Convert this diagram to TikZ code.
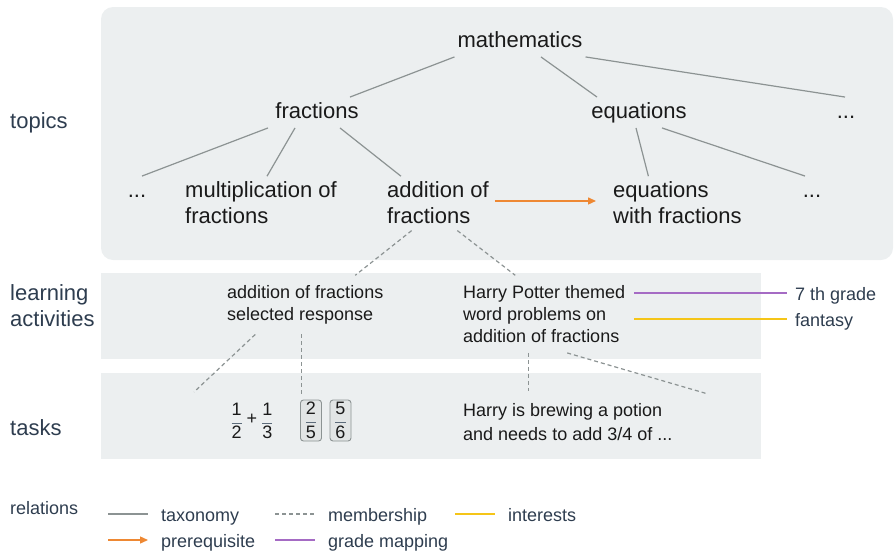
\documentclass[tikz,border=0pt]{standalone}
\usepackage{fontspec}
\setmainfont{Liberation Sans}
\usetikzlibrary{arrows.meta}

\definecolor{panelgray}{HTML}{ECEFF0}
\definecolor{linegray}{HTML}{8C9393}
\definecolor{slate}{HTML}{2E3D4F}
\definecolor{barslate}{HTML}{5C6B7A}
\definecolor{inkblack}{HTML}{1A1A1A}
\definecolor{prereqorange}{HTML}{EE8833}
\definecolor{gradepurple}{HTML}{A56BC4}
\definecolor{interestyellow}{HTML}{F5C518}
\definecolor{choicegray}{HTML}{E2E5E5}

\newcommand{\fracpair}[2]{{\color{barslate}\frac{\mbox{\color{inkblack}#1}}{\mbox{\color{inkblack}#2}}}}

\begin{document}
\begin{tikzpicture}[
        x=1pt, y=-1pt,
        topic/.style={font=\fontsize{22}{26}\selectfont, text=inkblack, inner xsep=3pt, inner ysep=5pt, align=left},
        oneline/.style={text height=16pt, text depth=4.5pt},
        activity/.style={font=\fontsize{18}{22}\selectfont, text=inkblack, inner xsep=3pt, inner ysep=10pt, align=left, anchor=north west},
        rowlabel/.style={font=\fontsize{22}{26}\selectfont, text=slate, inner sep=0pt, align=left},
        legendtext/.style={font=\fontsize{18}{22}\selectfont, text=slate, inner sep=0pt, anchor=west, text height=16pt, text depth=2pt},
        choice/.style={draw=linegray, fill=choicegray, rounded corners=3pt, line width=0.9pt, minimum width=21pt, minimum height=41pt, inner sep=0pt, font=\fontsize{18}{22}\selectfont},
        taxonomy/.style={linegray, line width=1.2pt},
        membership/.style={linegray, line width=1.2pt, dash pattern=on 4pt off 3pt},
        prerequisite/.style={prereqorange, line width=1.4pt, -{Triangle[length=8pt,width=7pt]}},
        grademap/.style={gradepurple, line width=1.2pt},
        interest/.style={interestyellow, line width=1.2pt}
    ]

    \useasboundingbox (0,0) rectangle (894,554);

    %% ---- Panels ----
    \fill[panelgray, rounded corners=12pt] (101,7) rectangle (893,260);
    \fill[panelgray] (101,273) rectangle (761,359);
    \fill[panelgray] (101,373) rectangle (761,459);

    %% ---- Row labels ----
    \node[rowlabel, anchor=base west] (topics) at (10,128.2) {topics};
    \node[rowlabel, anchor=north west] (learning) at (10,284.2) {learning\\activities};
    \node[rowlabel, anchor=base west] (tasks) at (10,435.2) {tasks};
    \node[legendtext, anchor=base west] (relations) at (10,514.2) {relations};

    %% ---- Topics ----
    \node[topic, oneline] (math) at (520,41.5) {mathematics};
    \node[topic, oneline] (frac) at (317,112.5) {fractions};
    \node[topic, oneline] (eq) at (639,112.5) {equations};
    \node[topic, oneline] (moreA) at (846,112.5) {...};
    \node[topic, oneline] (moreB) at (137,191.5) {...};
    \node[topic, anchor=north west] (mult) at (182,176.2) {multiplication of\\fractions};
    \node[topic, anchor=north west] (add) at (384,176.2) {addition of\\fractions};
    \node[topic, anchor=north west] (eqf) at (610,176.2) {equations\\with fractions};
    \node[topic, oneline] (moreC) at (812,191.5) {...};

    %% ---- Taxonomy ----
    \draw[taxonomy] (math.south west) -- ([xshift=33pt]frac.north);
    \draw[taxonomy] ([xshift=21pt]math.south) -- ([xshift=-42pt]eq.north);
    \draw[taxonomy] (math.south east) -- ([xshift=-1pt]moreA.north);
    \draw[taxonomy] ([xshift=-49pt]frac.south) -- ([xshift=5pt]moreB.north);
    \draw[taxonomy] ([xshift=-22pt]frac.south) -- ([xshift=6pt]mult.north);
    \draw[taxonomy] ([xshift=23pt]frac.south) -- ([xshift=-37pt]add.north);
    \draw[taxonomy] ([xshift=-3pt]eq.south) -- ([xshift=-29pt]eqf.north);
    \draw[taxonomy] ([xshift=23pt]eq.south) -- ([xshift=-7pt]moreC.north);

    %% ---- Prerequisite ----
    \draw[prerequisite, shorten <=3pt, shorten >=14pt] ([yshift=1.5pt]add.east) -- ([yshift=1.5pt]eqf.west);

    %% ---- Learning activities ----
    \node[activity] (la1) at (224,275.3) {addition of fractions\\selected response};
    \node[activity] (la2) at (460,275.3) {Harry Potter themed\\word problems on\\addition of fractions};

    \draw[membership, shorten <=3pt] ([xshift=-24pt]add.south) -- ([xshift=50pt]la1.north);
    \draw[membership, shorten <=3pt] ([xshift=17pt]add.south) -- ([xshift=-29pt]la2.north);

    %% ---- Grade and interests ----
    \node[legendtext] (grade) at (795,293) {7 th grade};
    \node[legendtext] (fantasy) at (795,319) {fantasy};
    \draw[grademap, shorten <=6pt, shorten >=8pt] (la2.east |- grade.west) -- (grade.west);
    \draw[interest, shorten <=6pt, shorten >=8pt] (la2.east |- fantasy.west) -- (fantasy.west);

    %% ---- Tasks ----
    \node[font=\fontsize{18}{22}\selectfont, inner sep=0pt] (tq) at (252,421)
        {$\displaystyle\fracpair{1}{2}\mathbin{\raisebox{2.5pt}{\color{inkblack}+}}\fracpair{1}{3}$};
    \node[choice] (c1) at (311,420.5) {$\displaystyle\fracpair{2}{5}$};
    \node[choice] (c2) at (340.5,420.5) {$\displaystyle\fracpair{5}{6}$};
    \node[activity, inner ysep=9pt] (task2) at (460,394.3) {Harry is brewing a potion\\[2pt]and needs to add 3/4 of ...};

    \coordinate (tqend) at (194,392);
    \coordinate (hpend) at (708,394);

    \draw[membership] ([xshift=-50pt]la1.south) -- (tqend);
    \draw[membership, shorten >=5pt] ([xshift=-4pt]la1.south) -- ([xshift=-4pt]la1.south |- c1.north);
    \draw[membership, shorten >=3pt] ([xshift=-16pt]la2.south) -- ([xshift=-16pt]la2.south |- task2.north);
    \draw[membership] ([xshift=23pt]la2.south) -- (hpend);

    %% ---- Legend ----
    \node[legendtext] (ltax) at (161,514) {taxonomy};
    \node[legendtext] (lmem) at (328,514) {membership};
    \node[legendtext] (lint) at (508,514) {interests};
    \node[legendtext] (lpre) at (161,540) {prerequisite};
    \node[legendtext] (lgrade) at (328,540) {grade mapping};

    \draw[taxonomy] ([xshift=-53pt]ltax.west) -- ([xshift=-13pt]ltax.west);
    \draw[membership] ([xshift=-53pt]lmem.west) -- ([xshift=-13pt]lmem.west);
    \draw[interest] ([xshift=-53pt]lint.west) -- ([xshift=-13pt]lint.west);
    \draw[prerequisite] ([xshift=-53pt]lpre.west) -- ([xshift=-13pt]lpre.west);
    \draw[grademap] ([xshift=-53pt]lgrade.west) -- ([xshift=-13pt]lgrade.west);

\end{tikzpicture}
\end{document}
